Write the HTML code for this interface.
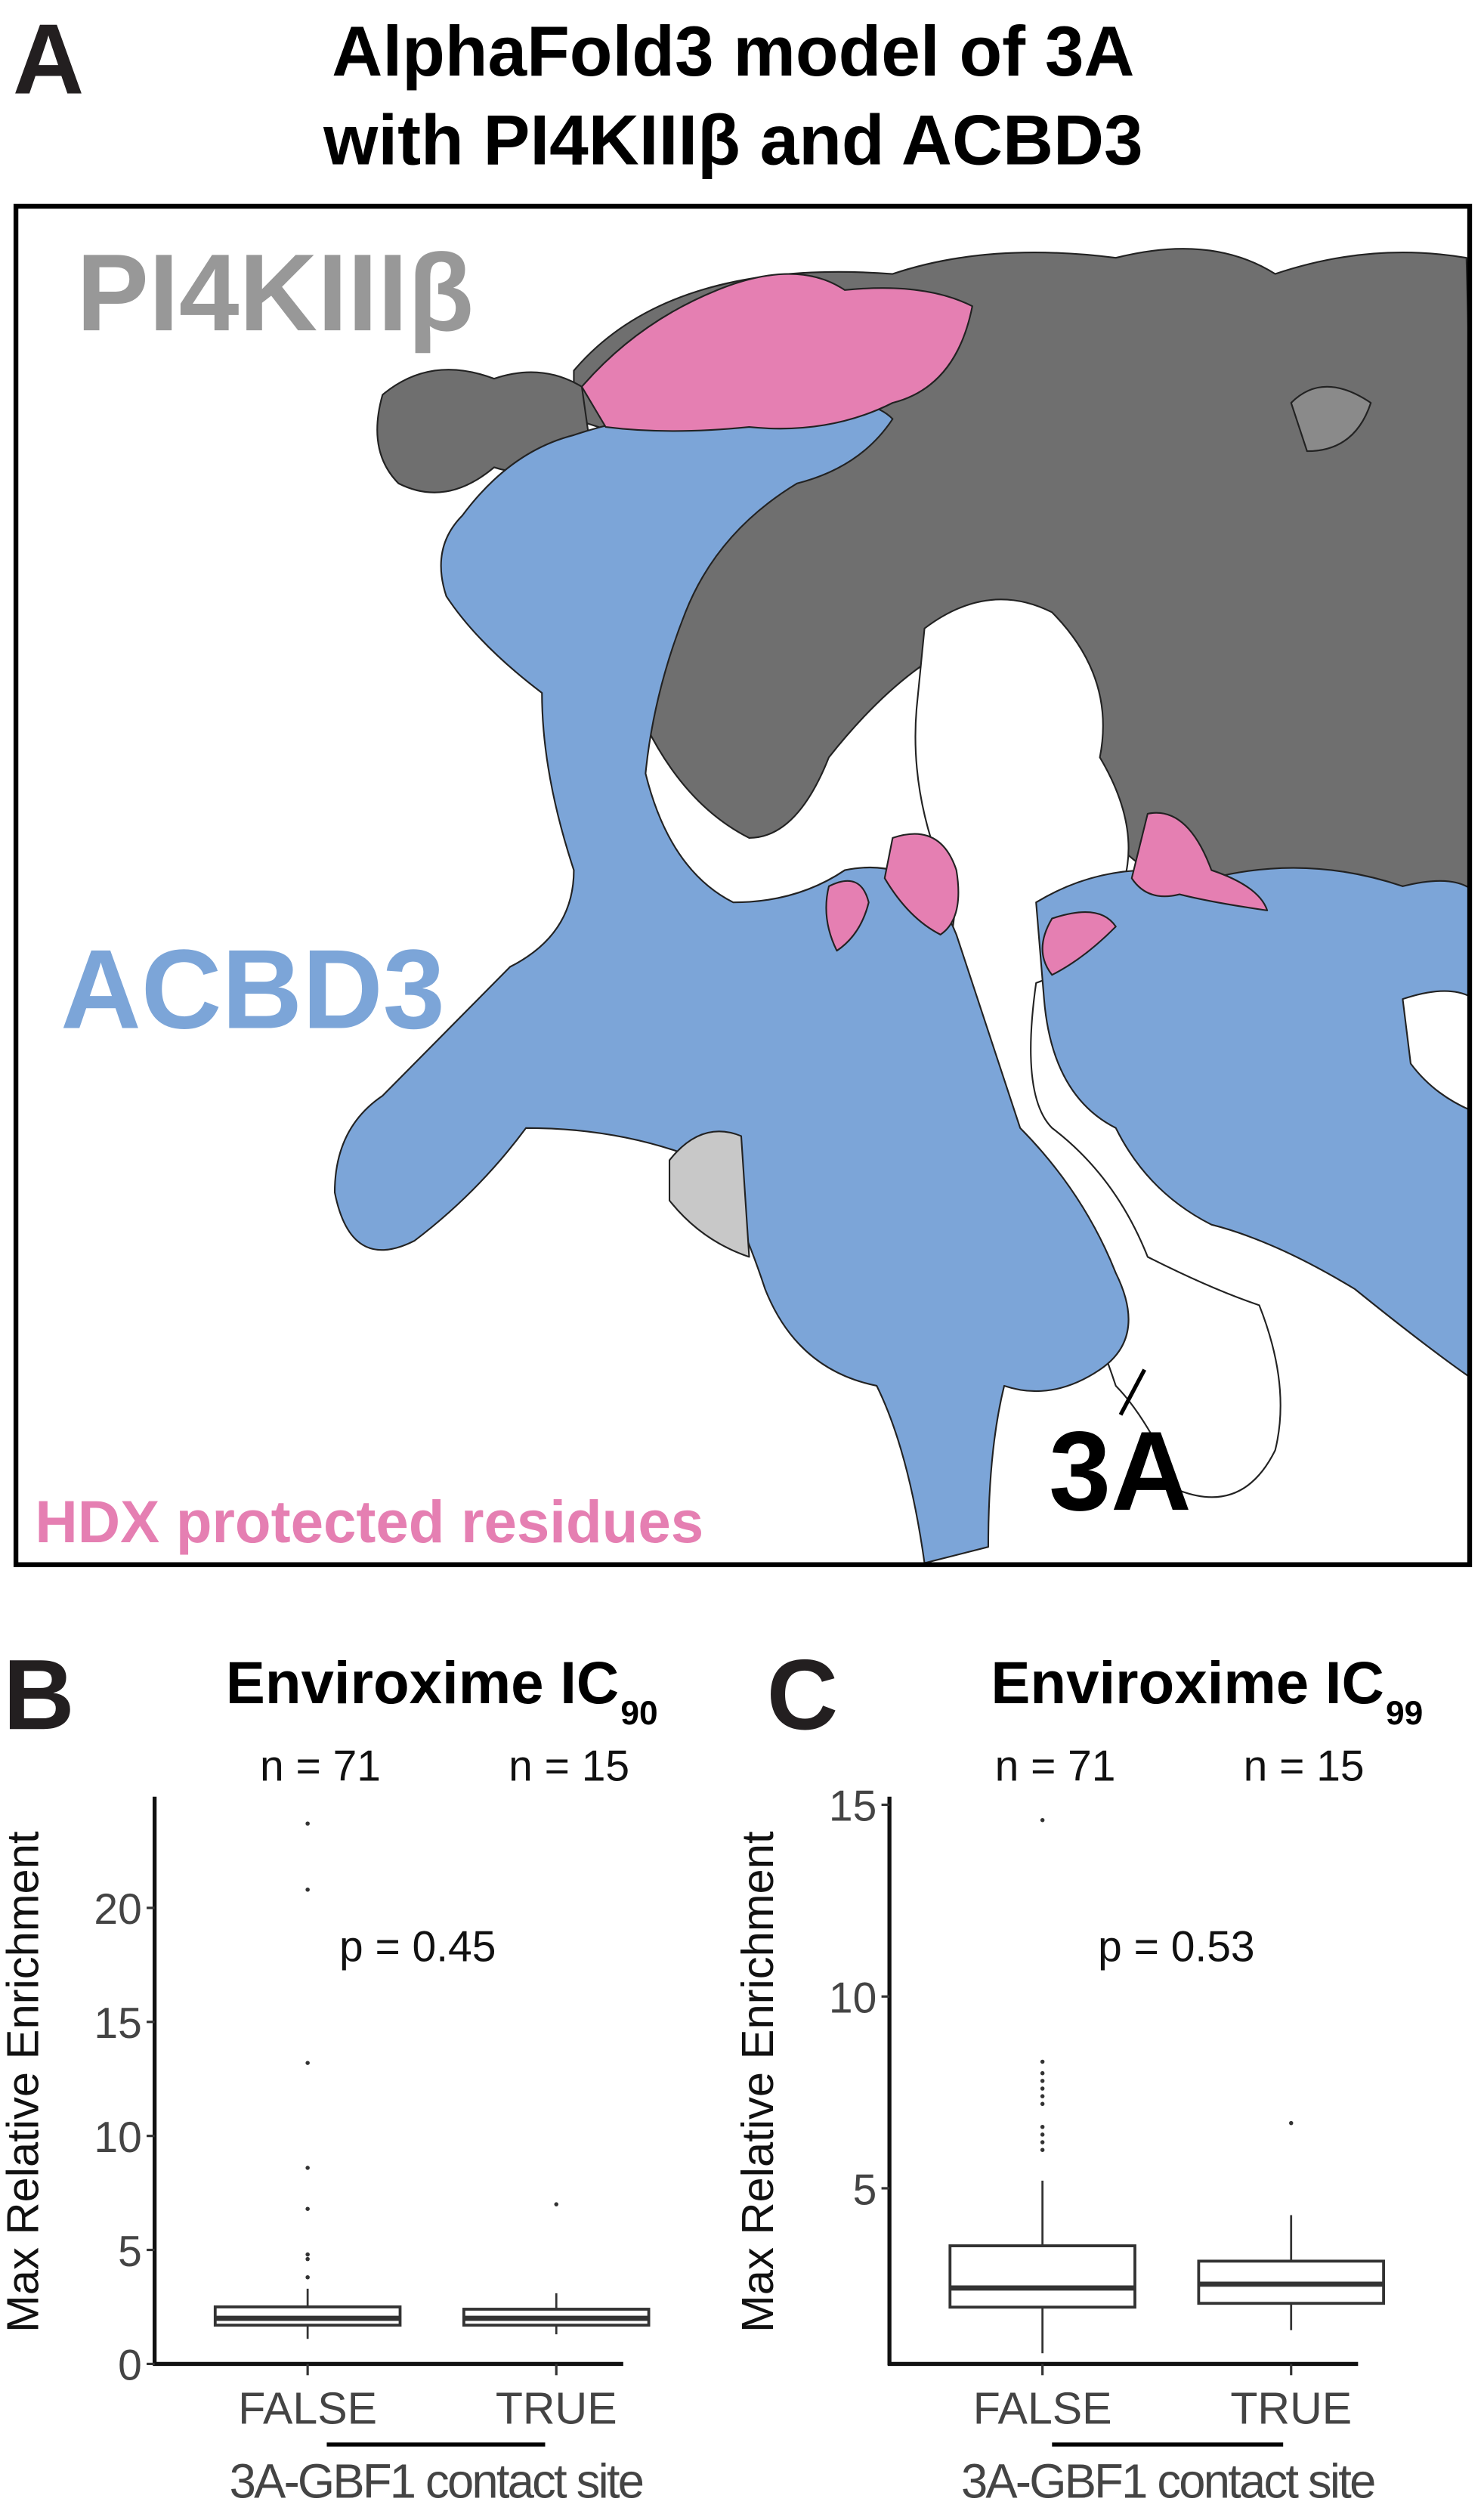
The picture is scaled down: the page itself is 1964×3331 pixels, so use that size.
<!DOCTYPE html>
<html><head><meta charset="utf-8"><style>
html,body{margin:0;padding:0;background:#fff}
svg{display:block}
text{font-family:"Liberation Sans",sans-serif}
</style></head><body>
<svg id="fig" width="1964" height="3331" viewBox="0 0 931 1562" preserveAspectRatio="none">
<g>
<text x="8" y="58" font-size="62" font-weight="bold" fill="#231f20">A</text>
<text x="460" y="47" font-size="44" font-weight="bold" text-anchor="middle">AlphaFold3 model of 3A</text>
<text x="460" y="102" font-size="44" font-weight="bold" text-anchor="middle">with PI4KIIIβ and ACBD3</text>
<clipPath id="fc"><rect x="10" y="128" width="912" height="843"/></clipPath>
<g clip-path="url(#fc)" stroke="#222" stroke-width="1" stroke-linejoin="round">
<path fill="#6f6f6f" d="M360 230 Q420 160 560 170 Q620 150 700 160 Q760 145 800 170 Q860 150 920 160 L930 560 Q880 540 830 560 Q780 560 720 540 Q690 520 660 470 Q640 420 600 400 Q560 420 520 470 Q500 520 470 520 Q430 500 405 450 Q400 390 440 350 Q480 300 430 280 Q390 270 360 260 Z"/>
<path fill="#6f6f6f" d="M240 245 Q270 220 310 235 Q340 225 365 240 L370 275 Q340 300 310 290 Q280 315 250 300 Q230 280 240 245 Z"/>
<path fill="#8a8a8a" d="M810 250 Q830 230 860 250 Q850 280 820 280 Z"/>
<path fill="#fff" d="M580 390 Q620 360 660 380 Q700 420 690 470 Q720 520 700 560 Q680 600 650 610 Q640 680 660 700 Q700 730 720 780 Q760 800 790 810 Q810 860 800 900 Q780 940 740 925 Q720 880 700 860 Q680 800 650 760 Q620 720 600 680 Q590 620 600 560 Q570 500 575 440 Z"/>
<path fill="#7ca5d8" d="M290 320 Q320 280 360 270 Q420 250 480 260 Q540 240 560 260 Q540 290 500 300 Q450 330 430 380 Q410 430 405 480 Q420 540 460 560 Q500 560 530 540 Q580 530 600 580 Q620 640 640 700 Q680 740 700 790 Q720 830 690 850 Q660 870 630 860 Q620 900 620 960 L580 970 Q570 900 550 860 Q500 850 480 800 Q460 740 440 720 Q390 700 330 700 Q300 740 260 770 Q220 790 210 740 Q210 700 240 680 Q280 640 320 600 Q360 580 360 540 Q340 480 340 430 Q300 400 280 370 Q270 340 290 320 Z"/>
<path fill="#7ca5d8" d="M650 560 Q700 530 760 545 Q820 530 880 550 Q920 540 930 560 L930 860 Q900 840 850 800 Q800 770 760 760 Q720 740 700 700 Q660 680 655 620 Z"/>
<path fill="#fff" d="M880 620 Q910 610 925 620 L925 690 Q900 680 885 660 Z"/>
<path fill="#c8c8c8" d="M420 720 Q440 695 465 705 L470 780 Q440 770 420 745 Z"/>
<path fill="#e57fb2" d="M365 240 Q400 200 450 180 Q500 160 530 180 Q580 175 610 190 Q600 240 560 250 Q520 270 470 265 Q420 270 380 265 Z"/>
<path fill="#e57fb2" d="M560 520 Q590 510 600 540 Q605 570 590 580 Q570 570 555 545 Z"/>
<path fill="#e57fb2" d="M520 550 Q540 540 545 560 Q540 580 525 590 Q515 570 520 550 Z"/>
<path fill="#e57fb2" d="M720 505 Q745 500 760 540 Q790 550 795 565 Q760 560 740 555 Q720 560 710 545 Z"/>
<path fill="#e57fb2" d="M660 570 Q690 560 700 575 Q680 595 660 605 Q648 590 660 570 Z"/>
</g>
<rect x="10" y="128" width="912" height="843" fill="none" stroke="#000" stroke-width="3"/>
<text x="48" y="205" font-size="68" font-weight="bold" fill="#989898">PI4KIIIβ</text>
<text x="38" y="638" font-size="70" font-weight="bold" fill="#7ca5d8">ACBD3</text>
<text x="22" y="957" font-size="37" font-weight="bold" fill="#e57fb2">HDX protected residues</text>
<text x="658" y="937" font-size="70" font-weight="bold" fill="#000">3A</text>
<line x1="703" y1="878" x2="718" y2="850" stroke="#000" stroke-width="2.5"/>
</g>
<g id="chartB"></g>
<g id="chartC"></g>
</svg>
<script>
const groupsB = ["FALSE", "TRUE"];
const statsB = [[1.1, 1.7, 2.0, 2.5, 3.3], [1.3, 1.7, 2.0, 2.4, 3.1]];
const outliersB = [[23.7, 20.8, 13.2, 8.6, 6.8, 4.8, 4.6, 3.8], [7.0]];
const ticksB = [0, 5, 10, 15, 20];
const groupsC = ["FALSE", "TRUE"];
const statsC = [[0.7, 1.9, 2.4, 3.5, 5.2], [1.3, 2.0, 2.5, 3.1, 4.3]];
const outliersC = [[14.6, 8.3, 8.0, 7.8, 7.6, 7.4, 7.2, 6.6, 6.4, 6.2, 6.0], [6.7]];
const ticksC = [5, 10, 15];
const NS = "http://www.w3.org/2000/svg";
function mk(parent, tag, attrs, txt){
  const e = document.createElementNS(NS, tag);
  for (const k in attrs) e.setAttribute(k, attrs[k]);
  if (txt !== undefined) e.textContent = txt;
  parent.appendChild(e);
  return e;
}
function chart(gid, ox, letter, sub, pval, groups, stats, outs, ticks, y0, y0px, pxPerUnit, letterX, titleX, pX, barX1, barX2){
  const g = document.getElementById(gid);
  const Y = v => y0px - (v - y0) * pxPerUnit;
  const X = i => ox + 96 + i * 156;
  let t = mk(g, "text", {x: letterX, y: 1073, "font-size": 62, "font-weight": "bold", fill: "#231f20"}, letter);
  
  
  t = mk(g, "text", {x: titleX, y: 1057, "font-size": 37, "font-weight": "bold", "text-anchor": "middle"}, "Enviroxime IC");
  
  
  const bb = t.getBBox();
  t = mk(g, "text", {x: bb.x + bb.width + 1, y: 1070, "font-size": 21, "font-weight": "bold"}, sub);
  
  
  ["n = 71", "n = 15"].forEach((s, i) => {
    const n = mk(g, "text", {x: X(i) + 8, y: 1105, "font-size": 27, "text-anchor": "middle", fill: "#111"}, s);
    
    
  });
  t = mk(g, "text", {x: pX, y: 1217, "font-size": 27, "text-anchor": "middle", fill: "#111"}, pval);
  
  
  const ax = ox + 0;
  let l = mk(g, "line", {x1: ax, y1: 1115, x2: ax, y2: 1468, stroke: "#111", "stroke-width": 2.5});
  
  
  l = mk(g, "line", {x1: ax - 1, y1: 1467, x2: ax + 294, y2: 1467, stroke: "#111", "stroke-width": 2.5});
  
  
  ticks.forEach(v => {
    const tk = mk(g, "line", {x1: ax - 5, y1: Y(v), x2: ax, y2: Y(v), stroke: "#333", "stroke-width": 1.5});
    
    
    const tl = mk(g, "text", {x: ax - 8, y: Y(v) + 10, "font-size": 27, "text-anchor": "end", fill: "#444"}, v);
    
    
  });
  const yt = mk(g, "text", {x: 0, y: 0, "font-size": 28, "text-anchor": "middle", fill: "#111", transform: `translate(${ox - 73},1292) rotate(-90)`}, "Max Relative Enrichment");
  
  
  groups.forEach((gname, i) => {
    const cx = X(i), s = stats[i], w = 58;
    const tk = mk(g, "line", {x1: cx, y1: 1467, x2: cx, y2: 1474, stroke: "#333", "stroke-width": 1.5});
    
    
    const xl = mk(g, "text", {x: cx, y: 1504, "font-size": 28, "text-anchor": "middle", fill: "#444"}, gname);
    
    
    const wl = mk(g, "line", {x1: cx, y1: Y(s[0]), x2: cx, y2: Y(s[4]), stroke: "#333", "stroke-width": 1.3});
    
    
    const bx = mk(g, "rect", {x: cx - w, y: Y(s[3]), width: 2 * w, height: Y(s[1]) - Y(s[3]), fill: "#fff", stroke: "#333", "stroke-width": 1.8});
    
    
    const md = mk(g, "line", {x1: cx - w, y1: Y(s[2]), x2: cx + w, y2: Y(s[2]), stroke: "#333", "stroke-width": 3.2});
    
    
    outs[i].forEach(v => {
      const c = mk(g, "circle", {cx: cx, cy: Y(v), r: 1.3, fill: "#333"});
      
      
    });
  });
  l = mk(g, "line", {x1: barX1, y1: 1517, x2: barX2, y2: 1517, stroke: "#000", "stroke-width": 2.5});
  
  
  t = mk(g, "text", {x: (barX1 + barX2) / 2, y: 1550, "font-size": 30, "text-anchor": "middle", fill: "#444", "letter-spacing": -1.3}, "3A-GBF1 contact site");
  
  
}
chart("chartB", 97, "B", "90", "p = 0.45", groupsB, statsB, outliersB, ticksB, 0, 1467, 14.15, 2, 265, 262, 205, 342);
chart("chartC", 558, "C", "99", "p = 0.53", groupsC, statsC, outliersC, ticksC, 5, 1358, 23.8, 481, 745, 738, 660, 805);
</script>
</body></html>
